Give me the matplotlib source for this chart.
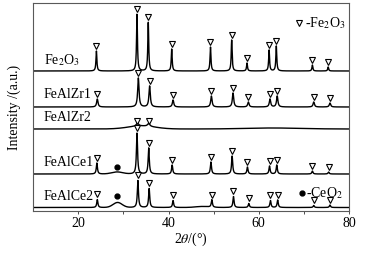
import numpy as np
import matplotlib.pyplot as plt

plt.rcParams['font.family'] = ['Liberation Serif', 'DejaVu Serif']
plt.rcParams['mathtext.fontset'] = 'stix'

# sample names, baseline offsets (a.u.) and label heights
names = ['Fe$_2$O$_3$', 'FeAlZr1', 'FeAlZr2', 'FeAlCe1', 'FeAlCe2']
baselines = [140, 104, 82, 37, 3.5]
label_y = [151, 116, 93, 48, 14]

# Fe2O3 reflections: position (deg), height
fe_pos = [
    [24.0, 33.0, 35.5, 40.7, 49.3, 54.0, 57.4, 62.3, 63.9, 71.9, 75.4],
    [24.2, 33.3, 35.8, 41.0, 49.5, 54.3, 57.7, 62.5, 64.1, 72.2, 75.8],
    [33.1, 35.6],
    [24.1, 33.0, 35.6, 40.8, 49.4, 54.1, 57.5, 62.4, 64.0, 71.9, 75.5],
    [24.2, 33.2, 35.7, 41.0, 49.6, 54.4, 57.8, 62.6, 64.2, 72.2, 75.8],
]
fe_h = [
    [20, 57, 49, 22, 24, 31, 8, 21, 25, 6, 4],
    [8, 29, 21, 7, 11, 14, 5, 8, 11, 5, 4],
    [3, 3],
    [11, 41, 26, 9, 12, 18, 7, 8, 9, 3, 2],
    [8, 27, 19, 7, 7.5, 11, 4, 7, 7.5, 2, 2.5],
]
fe_w = [0.12, 0.18, 0.3, 0.15, 0.15]

# broad humps (amorphous / CeO2): position, height, width
broad = [
    [],
    [],
    [(34.0, 3, 3.0), (63.0, 1, 6.0)],
    [(28.6, 2, 1.2)],
    [(28.7, 5, 1.0), (47.5, 1, 1.5)],
]
# CeO2 dots
ceo2_pos = [28.5, 28.6]
ceo2_y = [44, 15]

x = np.linspace(10, 80, 3000)

fig = plt.figure(figsize=(3.67, 2.54), dpi=100)
ax = fig.add_axes([0.0907, 0.1693, 0.860, 0.819])

for i in range(5):
    y = np.full_like(x, baselines[i])
    for c, h in zip(fe_pos[i], fe_h[i]):
        y += h / (1 + ((x - c) / fe_w[i]) ** 2)
    for c, h, w in broad[i]:
        y += h * np.exp(-0.5 * ((x - c) / w) ** 2)
    ax.plot(x, y, color='black', lw=1.0)
    tops = [baselines[i] + h + 5 for h in fe_h[i]]
    ax.plot(fe_pos[i], tops, 'v', ms=4.5, mfc='white', mec='black', mew=0.8)
    ax.text(12.3, label_y[i], names[i], fontsize=10, va='center', ha='left')

ax.plot(ceo2_pos, ceo2_y, 'o', ms=3.5, color='black')

# legend entries drawn inside the box
ax.plot([69.0], [188], 'v', ms=4.5, mfc='white', mec='black', mew=0.8)
ax.text(70.2, 188, '-Fe$_2$O$_3$', fontsize=10, va='center', ha='left')
ax.plot([69.6], [18], 'o', ms=3.5, color='black')
ax.text(70.5, 18, '-CeO$_2$', fontsize=10, va='center', ha='left')

ax.set_xlim(10, 80)
ax.set_ylim(0, 208)
ax.set_xticks([20, 40, 60, 80])
ax.set_xticks([30, 50, 70], minor=True)
ax.set_yticks([])
ax.tick_params(axis='x', which='both', direction='out', length=2.5, width=0.7,
               labelsize=10, pad=2, color='0.3')
for s in ax.spines.values():
    s.set_color('0.35')
    s.set_linewidth(0.8)

ax.set_xlabel(r'2$\theta$/(°)', fontsize=10, labelpad=0)
ax.set_ylabel('Intensity /(a.u.)', fontsize=10, labelpad=9)

fig.savefig('out.png', dpi=100)
